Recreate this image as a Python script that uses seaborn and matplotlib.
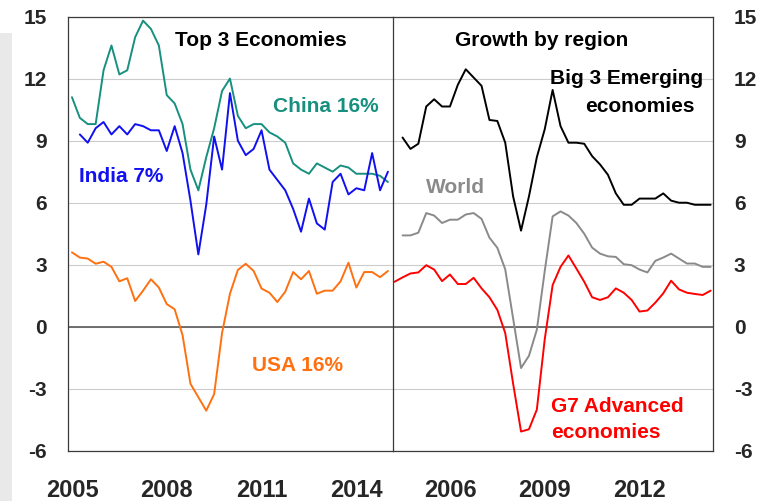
import numpy as np
import pandas as pd
import matplotlib
matplotlib.use("Agg")
import matplotlib.pyplot as plt
from matplotlib.patches import Rectangle
from matplotlib.transforms import ScaledTranslation
import seaborn as sns

# ---------------- data (annual % growth, quarterly) ----------------
left_quarters = 2005.125 + 0.25 * np.arange(41)
china = [11.1, 10.1, 9.8, 9.8, 12.4, 13.6, 12.2, 12.4, 14.0, 14.8,
         14.4, 13.6, 11.2, 10.8, 9.8, 7.6, 6.6, 8.2, 9.6, 11.4,
         12.0, 10.2, 9.6, 9.8, 9.8, 9.4, 9.2, 8.9, 7.9, 7.6,
         7.4, 7.9, 7.7, 7.5, 7.8, 7.7, 7.4, 7.4, 7.4, 7.3, 7.0]
india = [np.nan, 9.3, 8.9, 9.6, 9.9, 9.3, 9.7, 9.3, 9.8, 9.7,
         9.5, 9.5, 8.5, 9.7, 8.4, 6.1, 3.5, 5.9, 9.2, 7.6,
         11.3, 9.0, 8.3, 8.6, 9.5, 7.6, 7.1, 6.6, 5.7, 4.6,
         6.2, 5.0, 4.7, 7.0, 7.4, 6.4, 6.7, 6.6, 8.4, 6.6, 7.5]
usa = [3.6, 3.35, 3.3, 3.05, 3.15, 2.9, 2.2, 2.35, 1.25, 1.75,
       2.3, 1.9, 1.1, 0.85, -0.4, -2.75, -3.4, -4.05, -3.25, -0.3,
       1.6, 2.75, 3.05, 2.7, 1.85, 1.65, 1.2, 1.7, 2.65, 2.3,
       2.7, 1.6, 1.75, 1.75, 2.2, 3.1, 1.9, 2.65, 2.65, 2.4, 2.7]

right_quarters = 2004.375 + 0.25 * np.arange(41)
big3 = [np.nan, 9.15, 8.6, 8.85, 10.65, 11.0, 10.65, 10.65, 11.7, 12.45,
        12.05, 11.65, 10.0, 9.95, 8.9, 6.3, 4.65, 6.3, 8.2, 9.55,
        11.45, 9.7, 8.9, 8.9, 8.85, 8.25, 7.85, 7.35, 6.45, 5.9,
        5.9, 6.2, 6.2, 6.2, 6.45, 6.1, 6.0, 6.0, 5.9, 5.9, 5.9]
world = [np.nan, 4.42, 4.42, 4.55, 5.5, 5.38, 5.02, 5.18, 5.18, 5.43,
         5.5, 5.22, 4.31, 3.82, 2.78, 0.4, -1.99, -1.4, -0.14, 2.7,
         5.34, 5.58, 5.38, 5.02, 4.5, 3.83, 3.54, 3.41, 3.38, 3.03,
         2.98, 2.77, 2.63, 3.19, 3.35, 3.54, 3.3, 3.06, 3.06, 2.9, 2.9]
g7 = [2.18, 2.39, 2.58, 2.63, 2.98, 2.77, 2.21, 2.53, 2.07, 2.07,
      2.37, 1.86, 1.43, 0.82, -0.3, -2.75, -5.06, -4.95, -4.0, -0.6,
      2.02, 2.9, 3.45, 2.82, 2.18, 1.43, 1.3, 1.43, 1.86, 1.65,
      1.3, 0.74, 0.79, 1.17, 1.62, 2.23, 1.81, 1.65, 1.59, 1.54, 1.75]

y_ticks = [-6, -3, 0, 3, 6, 9, 12, 15]
left_major = [2005, 2008, 2011, 2014]
left_minor = [2006.5, 2009.5, 2012.5]
right_major = [2006, 2009, 2012]
right_minor = [2004.5, 2007.5, 2010.5, 2013.5]

C_CHINA = "#17907f"
C_INDIA = "#1010f0"
C_USA = "#ff7010"
C_BIG3 = "#000000"
C_WORLD = "#8a8a8a"
C_G7 = "#ff0000"

# ---------------- styling ----------------
sns.set_style("white")
plt.rcParams["font.family"] = ["Liberation Sans", "DejaVu Sans"]
plt.rcParams["font.weight"] = "bold"

W, H = 764, 501
fig = plt.figure(figsize=(W / 100, H / 100), dpi=100)
fig.patch.set_facecolor("white")

def fx(px):
    return px / W

def fy(py):
    return 1 - py / H

top, bottom = 16.5, 451
ax1 = fig.add_axes([fx(68), fy(bottom), fx(393) - fx(68), fy(top) - fy(bottom)])
ax2 = fig.add_axes([fx(393), fy(bottom), fx(713) - fx(393), fy(top) - fy(bottom)])

fig.patches.append(Rectangle((0, 0), fx(12), fy(33), transform=fig.transFigure,
                             facecolor="#e9e9e9", edgecolor="none", zorder=-5))

lw = 1.4
sns.lineplot(x=left_quarters, y=china, ax=ax1, color=C_CHINA, lw=lw, zorder=3)
sns.lineplot(x=left_quarters, y=india, ax=ax1, color=C_INDIA, lw=lw, zorder=3)
sns.lineplot(x=left_quarters, y=usa, ax=ax1, color=C_USA, lw=lw, zorder=3)

sns.lineplot(x=right_quarters, y=big3, ax=ax2, color=C_BIG3, lw=lw, zorder=3)
sns.lineplot(x=right_quarters, y=world, ax=ax2, color=C_WORLD, lw=lw, zorder=3)
sns.lineplot(x=right_quarters, y=g7, ax=ax2, color=C_G7, lw=lw, zorder=3)

ax1.set_xlim(2005.0, 2015.285)
ax2.set_xlim(2004.323, 2014.45)

for ax in (ax1, ax2):
    ax.set_ylim(-6, 15)
    ax.set_yticks(y_ticks)
    ax.yaxis.grid(True, color="#cccccc", lw=0.8)
    ax.xaxis.grid(False)
    ax.set_axisbelow(True)
    ax.axhline(0, color="#5a5a5a", lw=1.2, zorder=2)
    for s in ax.spines.values():
        s.set_color("#3a3a3a")
        s.set_linewidth(0.9)
    ax.tick_params(axis="x", which="both", direction="in", length=4, width=0.9,
                   color="#3a3a3a", pad=20, labelsize=17)
    ax.tick_params(axis="y", which="both", length=0, pad=15, labelsize=15)
    ax.set_xlabel("")
    ax.set_ylabel("")
    leg = ax.get_legend()
    if leg:
        leg.remove()

ax1.set_xticks(left_major)
ax1.set_xticks(left_minor, minor=True)
ax1.set_xticklabels([str(v) for v in left_major])
ax2.set_xticks(right_major)
ax2.set_xticks(right_minor, minor=True)
ax2.set_xticklabels([str(v) for v in right_major])

ax1.set_yticklabels([str(v) for v in y_ticks])
ax2.yaxis.tick_right()
ax2.set_yticklabels([str(v) for v in y_ticks])
ax2.tick_params(axis="y", which="both", length=0, pad=15, labelsize=15)
# single dark divider between the two panels
ax1.spines["right"].set_visible(False)
ax2.spines["left"].set_visible(True)
ax2.spines["left"].set_zorder(5)

for ax in (ax1, ax2):
    for lab in ax.get_xticklabels():
        lab.set_fontweight("bold")
        lab.set_transform(lab.get_transform() + ScaledTranslation(4 / 100, 0, fig.dpi_scale_trans))
    for lab in ax.get_yticklabels():
        lab.set_fontweight("bold")

def label(px, py, s, color, ha="center", size=15):
    fig.text(fx(px), fy(py), s, color=color, ha=ha, va="baseline",
             fontsize=size, fontweight="bold")

label(261, 45.7, "Top 3 Economies", "#000000")
label(541.7, 45.7, "Growth by region", "#000000")
label(325.5, 112.3, "China 16%", C_CHINA)
label(121.5, 181.7, "India 7%", C_INDIA)
label(297.5, 371, "USA 16%", C_USA)
label(455, 193.3, "World", C_WORLD)
label(626.5, 84, "Big 3 Emerging", "#000000")
label(639.5, 111.7, "economies", "#000000")
label(551, 411.7, "G7 Advanced", C_G7, ha="left")
label(551, 438, "economies", C_G7, ha="left")

fig.savefig("out.png", dpi=100)
